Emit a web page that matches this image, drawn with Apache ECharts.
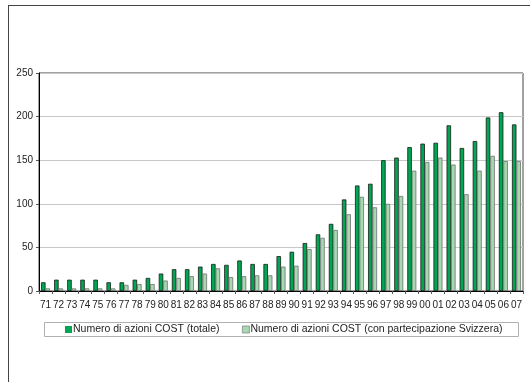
<!DOCTYPE html>
<html>
<head>
<meta charset="utf-8">
<script src="https://cdn.jsdelivr.net/npm/echarts@6/dist/echarts.min.js"></script>
<style>
  html, body { margin: 0; padding: 0; background: #fff; }
  #chart { width: 530px; height: 382px; }
</style>
</head>
<body>
<div id="chart"></div>
<script>
// Anni (etichette dell'asse x)
const years = ['71','72','73','74','75','76','77','78','79','80','81','82','83','84','85','86','87','88','89','90',
               '91','92','93','94','95','96','97','98','99','00','01','02','03','04','05','06','07'];

// Numero di azioni COST (totale)
const totale = [10,13,13,13,13,10,10,13,15,20,25,25,28,31,30,35,31,31,40,45,
                55,65,77,105,121,123,150,153,165,169,170,190,164,172,199,205,191];

// Numero di azioni COST (con partecipazione Svizzera)
const svizzera = [3,3,3,3,3,3,7,8,8,12,15,17,20,26,16,17,18,18,28,29,
                  48,61,70,88,108,96,100,109,138,148,153,145,111,138,155,149,149];

const nameTot = 'Numero di azioni COST (totale)';
const nameSvi = 'Numero di azioni COST (con partecipazione Svizzera)';

const chart = echarts.init(document.getElementById('chart'), null, { renderer: 'canvas' });

const font = 'Liberation Sans, Arial, sans-serif';

chart.setOption({
  animation: false,
  backgroundColor: '#fff',
  textStyle: { fontFamily: font },
  grid: {
    left: 39, right: 7, top: 73, bottom: 91,
    show: true, borderColor: '#444', borderWidth: 1, backgroundColor: 'transparent'
  },
  graphic: [
    // cornice esterna del grafico
    { type: 'line', shape: { x1: 8.5, y1: 5, x2: 8.5, y2: 382 }, style: { stroke: '#444', lineWidth: 1 } },
    { type: 'line', shape: { x1: 8, y1: 5.5, x2: 530, y2: 5.5 }, style: { stroke: '#444', lineWidth: 1 } },
    // riquadro della legenda
    { type: 'rect', shape: { x: 44.5, y: 322.5, width: 474, height: 14 },
      style: { fill: 'none', stroke: '#b0b0b0', lineWidth: 1 }, z: 0 }
  ],
  legend: [
    {
      data: [{ name: nameTot, itemStyle: { borderWidth: 0 } }], left: 65, top: 322, padding: [2, 0, 0, 0],
      itemWidth: 7, itemHeight: 7, icon: 'rect',
      textStyle: { fontSize: 10.5, color: '#222', fontFamily: font, padding: [0, 0, 0, -4] },
      selectedMode: false
    },
    {
      data: [{ name: nameSvi, itemStyle: { borderColor: '#888', borderWidth: 0.8 } }], left: 242, top: 322, padding: [2, 0, 0, 0],
      itemWidth: 7, itemHeight: 7, icon: 'rect',
      textStyle: { fontSize: 10.5, color: '#222', fontFamily: font, padding: [0, 0, 0, -4] },
      selectedMode: false
    }
  ],
  xAxis: {
    type: 'category',
    data: years,
    boundaryGap: true,
    axisLine: { lineStyle: { color: '#000', width: 1 } },
    axisTick: { show: true, length: 3, alignWithLabel: false, lineStyle: { color: '#555' } },
    axisLabel: { interval: 0, fontSize: 10, color: '#222', margin: 9, fontFamily: font }
  },
  yAxis: {
    type: 'value',
    min: 0, max: 250, interval: 50,
    axisLine: { show: true, lineStyle: { color: '#000', width: 1 } },
    axisTick: { show: true, length: 3, lineStyle: { color: '#555' } },
    axisLabel: { fontSize: 10, color: '#222', margin: 6, fontFamily: font },
    splitLine: { show: true, lineStyle: { color: '#c8c8c8', width: 1 } }
  },
  series: [
    {
      name: nameTot, type: 'bar', data: totale,
      barWidth: 4.5, barGap: '0%',
      itemStyle: { color: '#00a651', borderColor: '#1a1a1a', borderWidth: 0.8 }
    },
    {
      name: nameSvi, type: 'bar', data: svizzera,
      barWidth: 4.5, barGap: '0%',
      itemStyle: { color: '#a6d9b0', borderColor: '#6e6e6e', borderWidth: 0.8 }
    }
  ]
});
</script>
</body>
</html>
